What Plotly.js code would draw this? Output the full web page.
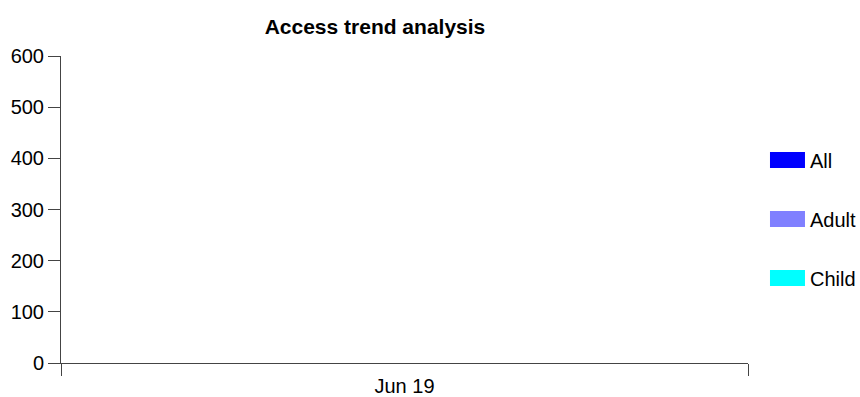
<!DOCTYPE html>
<html>
<head>
<meta charset="utf-8">
<script src="https://cdn.plot.ly/plotly-3.0.1.min.js"></script>
<style>html,body{margin:0;padding:0;background:#fff;}#chart{width:860px;height:397px;}</style>
</head>
<body>
<div id="chart"></div>
<script>
const categories = ["Jun 19"];
const seriesNames = ["All", "Adult", "Child"];
const seriesColors = ["#0000ff", "#8080ff", "#00ffff"];
const allValues = [0];
const adultValues = [0];
const childValues = [0];
const yTicks = [0, 100, 200, 300, 400, 500, 600];

const seriesValues = [allValues, adultValues, childValues];
const traces = seriesNames.map((name, i) => ({
  type: "bar",
  name: name,
  x: categories,
  y: seriesValues[i],
  legendgroup: name,
  marker: {color: seriesColors[i]},
  hoverinfo: "none"
}));

const font = {family: "Liberation Sans, Arial, sans-serif", size: 20, color: "#000"};
const layout = {
  width: 860, height: 397,
  margin: {l: 61, r: 112, t: 56, b: 34, autoexpand: false},
  paper_bgcolor: "#fff", plot_bgcolor: "#fff",
  font: font,
  showlegend: true,
  title: {
    text: "<b>Access trend analysis</b>",
    font: {family: "Liberation Sans, Arial, sans-serif", size: 21, color: "#000"},
    x: 0.436, xanchor: "center", xref: "container",
    y: 0.932, yanchor: "middle", yref: "container"
  },
  xaxis: {
    type: "category",
    showline: true, linecolor: "#444", linewidth: 1,
    ticks: "outside", tickson: "boundaries", ticklen: 12, tickcolor: "#444",
    ticklabelstandoff: 5,
    showgrid: false, zeroline: false,
    tickfont: font
  },
  yaxis: {
    range: [0, 600], tickvals: yTicks,
    showline: true, linecolor: "#444", linewidth: 1,
    ticks: "outside", ticklen: 12, tickcolor: "#444",
    showgrid: false, zeroline: false,
    tickfont: font
  },
  legend: {
    x: 1.032, xanchor: "left", y: 0.469, yanchor: "middle",
    traceorder: "grouped", tracegroupgap: 30,
    font: font, borderwidth: 0, bgcolor: "rgba(0,0,0,0)"
  },
  bargap: 0.2
};

function reshapeLegend() {
  document.querySelectorAll("#chart .legendpoints path").forEach(p => {
    p.setAttribute("d", "M-22,-8H15V8H-22Z");
    p.style.strokeWidth = "0px";
  });
}

Plotly.newPlot("chart", traces, layout, {staticPlot: true, displayModeBar: false}).then(gd => {
  reshapeLegend();
  gd.on("plotly_afterplot", reshapeLegend);
});
</script>
</body>
</html>
